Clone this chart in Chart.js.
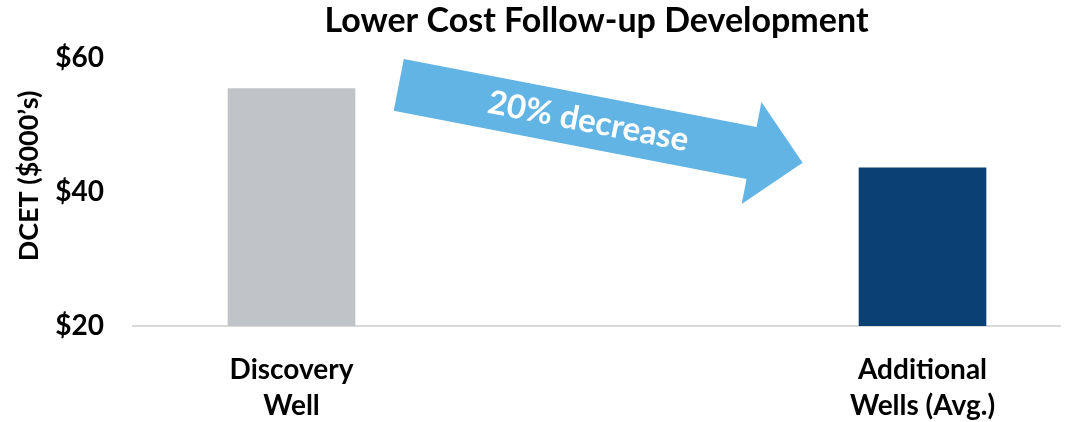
<!DOCTYPE html>
<html>
<head>
<meta charset="utf-8">
<script src="https://cdn.jsdelivr.net/npm/chart.js@4"></script>
<style>
  html, body { margin: 0; padding: 0; background: #fff; }
  #wrap { width: 1072px; height: 422px; }
</style>
</head>
<body>
<div id="wrap"><canvas id="chartBar" width="1072" height="422"></canvas></div>
<script>
// chart values
var categories = [["Discovery", "Well"], ["Additional", "Wells (Avg.)"]];
var catPositions = [0, 1];
var dcetValues = [55.4, 43.6];
var barColors = ["#c0c4c8", "#0b4075"];
var yTickValues = [20, 40, 60];
var chartTitle = "Lower Cost Follow-up Development";
var yTitle = "DCET ($000\u2019s)";
var arrowText = "20% decrease";

var FONT = "Lato, 'Open Sans', sans-serif";

//PLUGIN TO DRAW THE DECREASE ARROW AND Y TITLE
var arrowPlugin = {
	id: "arrowPlugin",
	afterDatasetsDraw: function (chart) {
		var ctx = chart.ctx;
		var xs = chart.scales.x, ys = chart.scales.y;
		// tail/tip anchored in data space
		var x0 = xs.getPixelForValue(0.17), y0 = ys.getPixelForValue(55.97);
		var x1 = xs.getPixelForValue(0.81), y1 = ys.getPixelForValue(44.33);
		var dx = x1 - x0, dy = y1 - y0;
		var len = Math.sqrt(dx * dx + dy * dy);
		var ang = Math.atan2(dy, dx);
		var hw = 26.4, headW = 52, headL = 52;

		ctx.save();
		ctx.translate(x0, y0);
		ctx.rotate(ang);
		ctx.beginPath();
		ctx.moveTo(0, -hw);
		ctx.lineTo(len - headL, -hw);
		ctx.lineTo(len - headL, -headW);
		ctx.lineTo(len, 0);
		ctx.lineTo(len - headL, headW);
		ctx.lineTo(len - headL, hw);
		ctx.lineTo(0, hw);
		ctx.closePath();
		ctx.fillStyle = "#62b4e4";
		ctx.fill();

		ctx.fillStyle = "#ffffff";
		ctx.font = "bold 33px " + FONT;
		ctx.textAlign = "center";
		ctx.textBaseline = "middle";
		ctx.fillText(arrowText, 193, 0);
		ctx.restore();

		// y axis title
		ctx.save();
		ctx.translate(29, 176);
		ctx.rotate(-Math.PI / 2);
		ctx.fillStyle = "#000";
		ctx.font = "bold 27px " + FONT;
		ctx.textAlign = "center";
		ctx.textBaseline = "middle";
		ctx.fillText(yTitle, 0, 0);
		ctx.restore();
	}
};

var ctx = document.getElementById("chartBar");
var myBarChart = new Chart(ctx, {
	type: "bar",
	data: {
		datasets: [{
			data: catPositions.map(function (p, i) { return { x: p, y: dcetValues[i] }; }),
			backgroundColor: barColors,
			barThickness: 127,
			borderWidth: 0
		}]
	},
	options: {
		responsive: false,
		animation: false,
		layout: { padding: { left: 0, right: 12, top: 0, bottom: 0 } },
		plugins: {
			legend: { display: false },
			tooltip: { enabled: false },
			title: {
				display: true,
				text: chartTitle,
				fullSize: false,
				color: "#000",
				font: { family: FONT, size: 34, weight: "bold", lineHeight: 1.2 },
				padding: { top: 1, bottom: 16 }
			}
		},
		scales: {
			x: {
				type: "linear",
				offset: false,
				min: -0.2512,
				max: 1.2179,
				grid: { display: false, drawTicks: false },
				border: { display: true, color: "#d9d9d9", width: 2 },
				afterBuildTicks: function (scale) {
					scale.ticks = catPositions.map(function (p) { return { value: p }; });
				},
				afterFit: function (scale) { scale.height = 96; },
				ticks: {
					autoSkip: false,
					maxRotation: 0,
					padding: 25,
					color: "#000",
					font: { family: FONT, size: 28, weight: "bold", lineHeight: 1.32 },
					callback: function (v) {
						var i = catPositions.indexOf(v);
						return i >= 0 ? categories[i] : "";
					}
				}
			},
			y: {
				min: 20,
				max: 60,
				grid: { display: false, drawTicks: false },
				border: { display: false },
				afterBuildTicks: function (scale) {
					scale.ticks = yTickValues.map(function (v) { return { value: v }; });
				},
				afterFit: function (scale) { scale.width = 133; },
				ticks: {
					padding: 29,
					color: "#000",
					font: { family: FONT, size: 28, weight: "bold" },
					callback: function (v) { return "$" + v; }
				}
			}
		}
	},
	plugins: [arrowPlugin]
});
</script>
</body>
</html>
